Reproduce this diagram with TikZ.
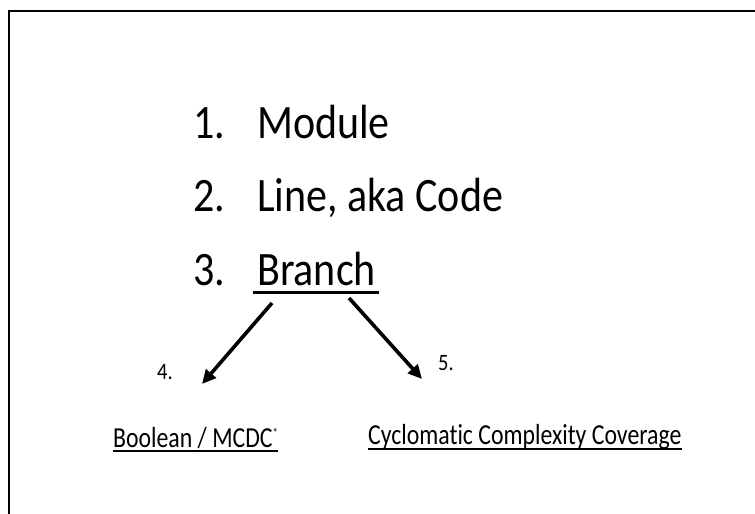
\documentclass[tikz,border=0pt]{standalone}
\usepackage{fontspec}
\setmainfont{Carlito}
\newfontfamily\bigfont{Carlito}[FakeStretch=0.875,Ligatures=CommonOff]
\newfontfamily\smallfont{Carlito}[FakeStretch=0.82,Ligatures=CommonOff]
\usetikzlibrary{arrows.meta,positioning}
\tikzstyle{frame} = [draw,line width=2pt,-]

\begin{document}
\begin{tikzpicture}[x=1pt,y=-1pt,>={Triangle[length=14pt,width=13pt]},
  item/.style={anchor=base west,inner sep=0pt,font=\bigfont\fontsize{48}{58}\selectfont},
  num label/.style={anchor=base west,inner sep=0pt,font=\bigfont\fontsize{23.5}{28}\selectfont},
  sub item/.style={anchor=base west,inner sep=0pt,font=\smallfont\fontsize{29}{35}\selectfont},
  uline/.style={draw,line width=2pt,-},
  branch arrow/.style={draw,->,line width=3.6pt}]

  \useasboundingbox (0,0) rectangle (755,514);
  \draw[frame] (9,514) -- (9,11) -- (755,11);

  % the numbered list
  \node[item] (n1) at (193,138) {1.};
  \node[item] (1) at (257,138) {Module};
  \node[item] (n2) at (193,211.5) {2.};
  \node[item] (2) at (257,211.5) {Line, aka Code};
  \node[item] (n3) at (193,285) {3.};
  \node[item] (3) at (257,285) {Branch};
  \draw[uline,line width=3pt] ([xshift=-4pt,yshift=-7pt]3.base west) -- ([xshift=3pt,yshift=-7pt]3.base east);

  % the two kinds of branch coverage
  \node[num label] (n4) at (157,379) {4.};
  \node[num label] (n5) at (438,370) {5.};
  \node[sub item] (4) at (113,447) {Boolean / MCDC\raisebox{10pt}{\fontsize{13}{13}\selectfont *}};
  \node[sub item] (5) at (368,444) {Cyclomatic Complexity Coverage};
  \draw[uline] ([yshift=-4pt]4.base west) -- ([yshift=-4pt]4.base east);
  \draw[uline] ([yshift=-5pt]5.base west) -- ([yshift=-5pt]5.base east);

  \coordinate (fromL) at (272,303);
  \coordinate (toL) at (202,384);
  \coordinate (fromR) at (349,298);
  \coordinate (toR) at (422,379);
  \path[branch arrow] (fromL) -- (toL);
  \path[branch arrow] (fromR) -- (toR);

\end{tikzpicture}
\end{document}
